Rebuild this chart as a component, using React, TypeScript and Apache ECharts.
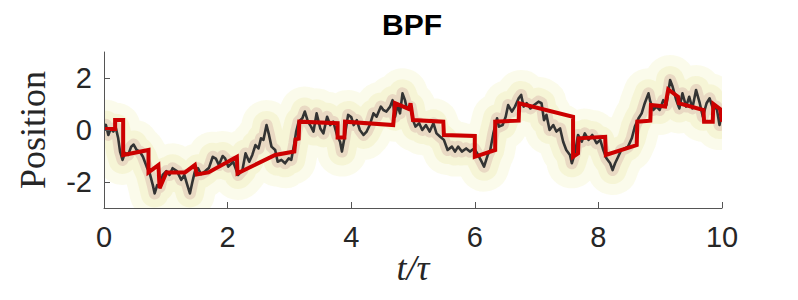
import React, { useEffect, useRef } from "react";
import * as echarts from "echarts";

// true position (black), [t/tau, position]
const truePath: [number, number][] = [
  [0.0, 0.13], [0.03, 0.2], [0.07, -0.19], [0.11, 0.06], [0.15, -0.06], [0.19, 0.09],
  [0.23, -0.32], [0.26, -0.83], [0.3, -1.15], [0.34, -0.88], [0.39, -0.96], [0.44, -0.64],
  [0.48, -0.56], [0.53, -0.77], [0.58, -0.83], [0.63, -1.03], [0.69, -1.41], [0.74, -1.67],
  [0.79, -2.12], [0.82, -2.44], [0.86, -2.12], [0.9, -2.2], [0.95, -1.73], [1.01, -1.58],
  [1.06, -1.73], [1.11, -1.47], [1.18, -1.58], [1.25, -1.92], [1.3, -1.73], [1.34, -2.05],
  [1.39, -2.44], [1.43, -2.0], [1.47, -1.6], [1.52, -1.47], [1.57, -1.7], [1.64, -1.58],
  [1.7, -1.45], [1.76, -1.03], [1.81, -1.1], [1.86, -1.35], [1.92, -1.0], [1.96, -1.09],
  [2.01, -1.41], [2.09, -1.22], [2.17, -1.73], [2.24, -1.54], [2.29, -0.9], [2.35, -1.22],
  [2.4, -0.96], [2.45, -0.58], [2.5, -0.71], [2.54, -0.32], [2.58, -0.38], [2.63, 0.19],
  [2.67, -0.19], [2.71, -0.64], [2.77, -0.77], [2.81, -1.22], [2.87, -1.15], [2.93, -1.28],
  [2.99, -1.09], [3.03, -1.15], [3.08, -0.51], [3.11, -0.06], [3.15, 0.32], [3.21, 0.45],
  [3.25, 0.71], [3.3, 0.32], [3.35, 0.13], [3.39, -0.06], [3.44, 0.64], [3.5, 0.06],
  [3.55, -0.13], [3.61, 0.51], [3.66, 0.19], [3.71, 0.32], [3.77, -0.19], [3.82, -0.45],
  [3.85, -0.83], [3.89, -0.32], [3.95, 0.58], [4.0, 0.5], [4.04, 0.19], [4.09, 0.38],
  [4.14, 0.0], [4.2, -0.19], [4.25, -0.06], [4.3, 0.19], [4.36, 0.64], [4.41, 0.51],
  [4.48, 0.9], [4.52, 0.77], [4.57, 0.71], [4.63, 0.9], [4.67, 1.15], [4.71, 0.51],
  [4.75, 0.96], [4.79, 0.64], [4.83, 1.41], [4.87, 1.15], [4.9, 0.83], [4.96, 0.9],
  [5.0, 0.38], [5.04, 0.13], [5.1, 0.26], [5.15, 0.0], [5.21, 0.19], [5.27, -0.06],
  [5.33, 0.26], [5.38, -0.13], [5.44, -0.26], [5.5, -0.38], [5.56, -0.77], [5.63, -0.64],
  [5.68, -0.83], [5.73, -0.64], [5.79, -0.83], [5.86, -0.71], [5.92, -0.83], [5.99, -0.71],
  [6.04, -0.9], [6.11, -1.22], [6.15, -1.41], [6.21, -0.96], [6.25, -0.77], [6.3, -0.13],
  [6.36, 0.45], [6.39, 0.13], [6.45, 0.19], [6.5, 0.51], [6.54, 0.96], [6.6, 0.71],
  [6.65, 0.9], [6.71, 1.22], [6.75, 1.35], [6.79, 0.9], [6.84, 1.03], [6.9, 0.83],
  [6.96, 0.96], [7.03, 1.09], [7.08, 1.03], [7.12, 0.38], [7.16, 0.58], [7.21, 0.0],
  [7.27, 0.19], [7.32, -0.06], [7.38, 0.06], [7.43, -0.45], [7.48, -0.77], [7.54, -0.96],
  [7.57, -1.28], [7.62, -0.9], [7.67, -0.19], [7.73, -0.45], [7.78, -0.13], [7.84, -0.38],
  [7.9, -0.19], [7.97, -0.51], [8.03, -0.38], [8.08, -0.77], [8.13, -1.09], [8.19, -1.28],
  [8.23, -1.54], [8.27, -1.28], [8.32, -1.03], [8.37, -0.77], [8.43, -0.71], [8.48, -0.64],
  [8.54, -0.32], [8.59, 0.13], [8.65, 0.45], [8.7, 0.64], [8.75, 1.03], [8.81, 1.41],
  [8.84, 1.09], [8.89, 0.77], [8.94, 0.9], [8.99, 0.77], [9.05, 1.15], [9.1, 0.96],
  [9.16, 1.92], [9.2, 1.67], [9.26, 1.15], [9.31, 0.83], [9.36, 1.41], [9.42, 0.9],
  [9.47, 1.28], [9.52, 0.83], [9.58, 1.54], [9.64, 1.03], [9.69, 0.51], [9.75, 1.03],
  [9.8, 1.22], [9.86, 0.77], [9.91, 0.9], [9.96, 0.19], [10.0, 0.71],
];

// BPF estimate (red), [t/tau, position]
const estimate: [number, number][] = [
  [0, 0.04], [0.18, 0.04], [0.18, 0.38], [0.31, 0.38], [0.31, -0.96], [0.72, -0.77],
  [0.72, -1.63], [0.88, -1.35], [0.9, -2.24], [1.01, -1.63], [1.31, -1.63], [1.47, -1.35],
  [1.5, -1.71], [1.69, -1.63], [2.15, -1.03], [2.16, -1.67], [2.77, -0.96], [3.08, -0.83],
  [3.1, -0.36], [3.15, -0.33], [3.16, 0.32], [3.78, 0.26], [3.78, -0.29], [3.89, -0.29],
  [3.9, 0.32], [4.68, 0.19], [4.71, 1.03], [4.94, 0.8], [4.96, 1.03], [5.0, 0.38],
  [5.49, 0.32], [5.5, -0.19], [6.0, -0.23], [6.0, -1.03], [6.33, -0.77], [6.33, 0.32],
  [6.71, 0.36], [6.72, 1.03], [7.59, 0.51], [7.59, -1.03], [7.67, -0.9], [7.68, -0.32],
  [8.11, -0.26], [8.12, -0.96], [8.62, -0.58], [8.63, 0.32], [8.84, 0.36], [8.85, 0.96],
  [9.08, 0.9], [9.13, 1.56], [9.29, 1.28], [9.3, 1.03], [9.7, 0.77], [9.71, 0.32],
  [9.85, 0.32], [9.86, 1.0], [9.97, 0.8], [10.0, 0.32],
];

const xTicks = [0, 2, 4, 6, 8, 10];
const yTicks = [-2, 0, 2];

const SANS = "'Liberation Sans', Arial, Helvetica, sans-serif";
const SERIF = "'Liberation Serif', 'DejaVu Serif', serif";

export default function App() {
  const ref = useRef<HTMLDivElement>(null);
  useEffect(() => {
    document.body.style.margin = "0";
    const chart = echarts.init(ref.current!, null, { renderer: "svg" });
    const glow = (w: number, color: string) => ({
      type: "line",
      data: truePath,
      showSymbol: false,
      silent: true,
      clip: true,
      z: 1,
      lineStyle: { width: w, color, join: "round", cap: "butt" },
    });
    const mask = (x: number, y: number, w: number, h: number) => ({
      type: "rect",
      z: 5,
      silent: true,
      shape: { x, y, width: w, height: h },
      style: { fill: "#ffffff" },
    });
    chart.setOption({
      animation: false,
      backgroundColor: "#ffffff",
      grid: { left: 104, right: 76, top: 52, bottom: 92, outerBoundsMode: "none" },
      xAxis: {
        type: "value",
        min: 0,
        max: 10,
        interval: 2,
        z: 10,
        axisLine: { show: true, onZero: false, lineStyle: { color: "#555", width: 1 } },
        axisTick: { show: true, inside: true, length: 6, lineStyle: { color: "#555" }, customValues: xTicks },
        axisLabel: { color: "#262626", fontSize: 29, fontFamily: SANS, margin: 14, customValues: xTicks },
        splitLine: { show: false },
      },
      yAxis: {
        type: "value",
        min: -3,
        max: 3,
        z: 10,
        axisLine: { show: true, onZero: false, lineStyle: { color: "#555", width: 1 } },
        axisTick: { show: true, inside: true, length: 6, lineStyle: { color: "#555" }, customValues: yTicks },
        axisLabel: { color: "#262626", fontSize: 29, fontFamily: SANS, margin: 12, customValues: yTicks },
        splitLine: { show: false },
      },
      graphic: [
        mask(60, 30, 44, 190),
        mask(722, 30, 50, 190),
        mask(60, 208, 712, 20),
        mask(60, 20, 712, 32),
        {
          type: "text",
          x: 412,
          y: 24,
          z: 10,
          style: { text: "BPF", font: `bold 30px ${SANS}`, fill: "#000", align: "center", verticalAlign: "middle" },
        },
        {
          type: "text",
          x: 33,
          y: 130,
          z: 10,
          rotation: Math.PI / 2,
          style: { text: "Position", font: `36px ${SERIF}`, fill: "#262626", align: "center", verticalAlign: "middle" },
        },
        {
          type: "text",
          x: 413,
          y: 268,
          z: 10,
          style: { text: "t/τ", font: `italic 36px ${SERIF}`, fill: "#262626", align: "center", verticalAlign: "middle" },
        },
      ],
      series: [
        glow(50, "rgba(246,246,205,0.4)"),
        glow(28, "rgba(238,234,175,0.35)"),
        glow(12, "rgba(180,95,110,0.18)"),
        {
          type: "line",
          data: truePath,
          showSymbol: false,
          z: 3,
          lineStyle: { width: 2.6, color: "#333333", join: "round" },
        },
        {
          type: "line",
          data: estimate,
          showSymbol: false,
          z: 4,
          lineStyle: { width: 4, color: "#cc0000", join: "miter" },
        },
      ],
    });
    return () => chart.dispose();
  }, []);
  return <div ref={ref} style={{ width: 798, height: 300 }} />;
}
